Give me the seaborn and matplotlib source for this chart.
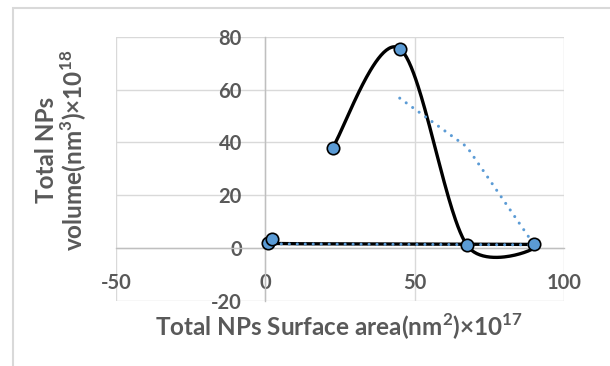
import numpy as np
import pandas as pd
import seaborn as sns
import matplotlib.pyplot as plt
from matplotlib.patches import Rectangle

# values (x: surface area, y: volume), in series order
surface_area = [22.5, 45, 67.5, 90, 0.8, 2.2]
volume = [38, 75.5, 1.1, 1.4, 1.8, 3.5]
x_ticks = [-50, 0, 50, 100]
y_ticks = [-20, 0, 20, 40, 60, 80]

GREY = '#595959'
BLUE = '#5B9BD5'


def smooth_curve(xs, ys, sx=3.0, sy=2.65, n=60):
    """Excel-like smoothed line: Catmull-Rom as cubic Bezier, done in
    screen units. Handles are kept short next to short segments."""
    p = np.column_stack([np.array(xs) * sx, np.array(ys) * sy]).astype(float)
    p = np.vstack([p[0], p, p[-1]])
    t = np.linspace(0, 1, n)[:, None]
    out = []
    for i in range(1, len(p) - 2):
        p0, p1, p2, p3 = p[i - 1], p[i], p[i + 1], p[i + 2]
        seg_len = np.linalg.norm(p2 - p1)
        d1 = (p2 - p0) / 6
        d2 = (p3 - p1) / 6
        for d, lim in ((d1, 0.5), (d2, 0.25)):
            L = np.linalg.norm(d)
            if L > lim * seg_len:
                d *= lim * seg_len / L
        c1 = p1 + d1
        c2 = p2 - d2
        seg = ((1 - t) ** 3) * p1 + 3 * ((1 - t) ** 2) * t * c1 \
            + 3 * (1 - t) * t ** 2 * c2 + t ** 3 * p2
        out.append(seg)
    curve = np.vstack(out)
    return curve[:, 0] / sx, curve[:, 1] / sy


sns.set_style('white')
plt.rcParams['font.family'] = ['Lato', 'DejaVu Sans']
plt.rcParams['font.weight'] = 'bold'
plt.rcParams['axes.unicode_minus'] = False
plt.rcParams['mathtext.fontset'] = 'custom'
plt.rcParams['mathtext.rm'] = 'Lato'
plt.rcParams['mathtext.bf'] = 'Lato:bold'

fig = plt.figure(figsize=(6.1, 3.66), dpi=100)
ax = fig.add_axes([116 / 610, 1 - 301 / 366, 448 / 610, 264.3 / 366])

cx, cy = smooth_curve(surface_area, volume)
sns.lineplot(x=cx, y=cy, sort=False, estimator=None, color='black',
             linewidth=2.4, ax=ax, zorder=2)

# 2-period moving average trendline
ma = pd.Series(volume).rolling(2).mean()
ax.plot(surface_area[1:], ma[1:], color=BLUE, linewidth=2.2,
        linestyle=(0, (0.01, 2.6)), dash_capstyle='round', zorder=2.5)

df = pd.DataFrame({'area': surface_area, 'vol': volume})
sns.scatterplot(data=df, x='area', y='vol', s=80, color=BLUE,
                edgecolor='black', linewidth=1.2, ax=ax, zorder=3)

ax.set_xlim(-50, 100)
ax.set_ylim(-20, 80)
ax.set_xticks(x_ticks)
ax.set_yticks(y_ticks)
ax.grid(True, color='#D9D9D9', linewidth=1.0)
ax.set_axisbelow(True)

for s in ['top', 'right']:
    ax.spines[s].set_visible(False)
ax.spines['left'].set_position(('data', 0))
ax.spines['bottom'].set_position(('data', 0))
for s in ['left', 'bottom']:
    ax.spines[s].set_color('#BFBFBF')
    ax.spines[s].set_linewidth(1.0)
    ax.spines[s].set_zorder(1)

ax.tick_params(axis='both', length=0, labelsize=14.5, labelcolor=GREY)
ax.tick_params(axis='x', pad=18)
ax.tick_params(axis='y', pad=17)
for lbl in ax.get_xticklabels() + ax.get_yticklabels():
    lbl.set_fontweight('bold')

ax.set_xlabel(r'Total NPs Surface area(nm$^{\mathbf{2}}$)×10$^{\mathbf{17}}$',
              fontsize=17.5, color=GREY, fontweight='bold', va='top')
ax.xaxis.set_label_coords(0.498, -0.04)
ax.set_ylabel('Total NPs\n' + r'volume(nm$^{\mathbf{3}}$)×10$^{\mathbf{18}}$',
              fontsize=17.5, color=GREY, fontweight='bold', va='center',
              multialignment='center', linespacing=1.05)
ax.yaxis.set_label_coords(-0.12, 0.57)

# chart area border (cropped on the right and bottom)
fig.patches.append(Rectangle((13 / 610, -0.2), 1.2, 0.2 + 1 - 7.5 / 366,
                             transform=fig.transFigure, fill=False,
                             edgecolor='#D9D9D9', linewidth=1.5))

fig.savefig('out.png', dpi=100)
